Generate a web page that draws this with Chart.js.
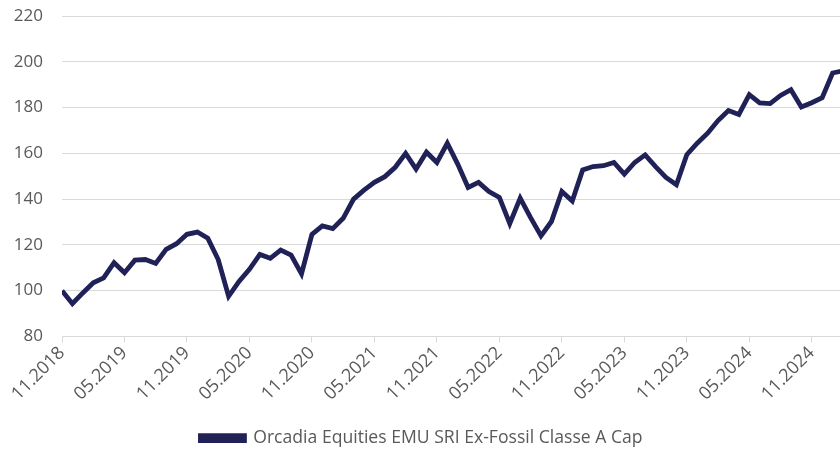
<!DOCTYPE html>
<html>
<head>
<meta charset="utf-8">
<script src="https://cdn.jsdelivr.net/npm/chart.js@4"></script>
<style>
  html, body { margin: 0; padding: 0; background: #fff; overflow: hidden; }
  #wrap { width: 843px; height: 453px; }
</style>
</head>
<body>
<div id="wrap"><canvas id="myChart"></canvas></div>
<script>
// monthly, 11.2018 -> 02.2025
const startMonth = 11;
const startYear = 2018;
const fundName = "Orcadia Equities EMU SRI Ex-Fossil Classe A Cap";
const fundValues = [
  100, 94.3, 99, 103.4, 105.6, 112.2, 107.8, 113.3, 113.6, 111.9, 118, 120.5,
  124.6, 125.6, 122.9, 113.6, 97.5, 104, 109.3, 115.8, 114.1, 117.7, 115.5, 107.3,
  124.6, 128.3, 127.1, 131.6, 140, 143.9, 147.3, 149.8, 153.9, 160, 153.1, 160.5,
  156, 164.4, 155.3, 145.1, 147.3, 143.3, 140.7, 129.3, 140.4, 131.9, 123.9, 130.2,
  143.3, 139.2, 152.7, 154.2, 154.6, 156, 150.9, 156, 159.3, 154.2, 149.5, 146.3,
  159.4, 164.4, 168.8, 174.3, 178.7, 177, 185.6, 182, 181.7, 185.3, 187.8, 180.2,
  182.1, 184.3, 195.1, 196
];
const yTicks = [80, 100, 120, 140, 160, 180, 200, 220];

const monthLabels = fundValues.map((v, i) => {
  const m = (startMonth - 1 + i) % 12 + 1;
  const y = startYear + Math.floor((startMonth - 1 + i) / 12);
  return String(m).padStart(2, "0") + "." + y;
});

const ctx = document.getElementById("myChart");
new Chart(ctx, {
  type: "line",
  data: {
    datasets: [
      {
        label: fundName,
        data: fundValues.map((v, i) => ({ x: i, y: v })),
        borderColor: "#202156",
        backgroundColor: "#202156",
        borderWidth: 4.8,
        pointRadius: 0,
        tension: 0,
      },
    ],
  },
  options: {
    responsive: true,
    maintainAspectRatio: false,
    animation: false,
    layout: { padding: { left: 0, right: 0, top: 16, bottom: -4 } },
    plugins: {
      tooltip: { enabled: false },
      legend: {
        position: "bottom",
        labels: {
          boxWidth: 44,
          boxHeight: 5,
          padding: 4,
          color: "#595959",
          font: { family: "Open Sans", size: 17.6 },
        },
      },
    },
    scales: {
      x: {
        type: "linear",
        min: 0,
        max: fundValues.length - 1,
        afterBuildTicks: (axis) => {
          axis.ticks = monthLabels
            .map((l, i) => i)
            .filter((i) => i % 6 === 0)
            .map((i) => ({ value: i }));
        },
        afterFit: (axis) => {
          axis.height = 89;
          axis.paddingRight = 0;
        },
        grid: {
          drawOnChartArea: false,
          drawTicks: true,
          tickLength: 6,
          color: "#d9d9d9",
        },
        border: { color: "#d9d9d9" },
        ticks: {
          autoSkip: false,
          maxRotation: 45,
          minRotation: 45,
          padding: 0,
          color: "#595959",
          font: { family: "Open Sans", size: 18 },
          callback: (v) => monthLabels[v],
        },
      },
      y: {
        min: yTicks[0],
        max: yTicks[yTicks.length - 1],
        afterBuildTicks: (axis) => {
          axis.ticks = yTicks.map((v) => ({ value: v }));
        },
        afterFit: (axis) => {
          axis.width = 62;
          axis.paddingTop = 0;
          axis.paddingBottom = 0;
        },
        grid: { color: "#d9d9d9", drawTicks: false },
        border: { display: false },
        ticks: {
          padding: 19,
          color: "#595959",
          font: { family: "Open Sans", size: 17 },
        },
      },
    },
  },
});
</script>
</body>
</html>
